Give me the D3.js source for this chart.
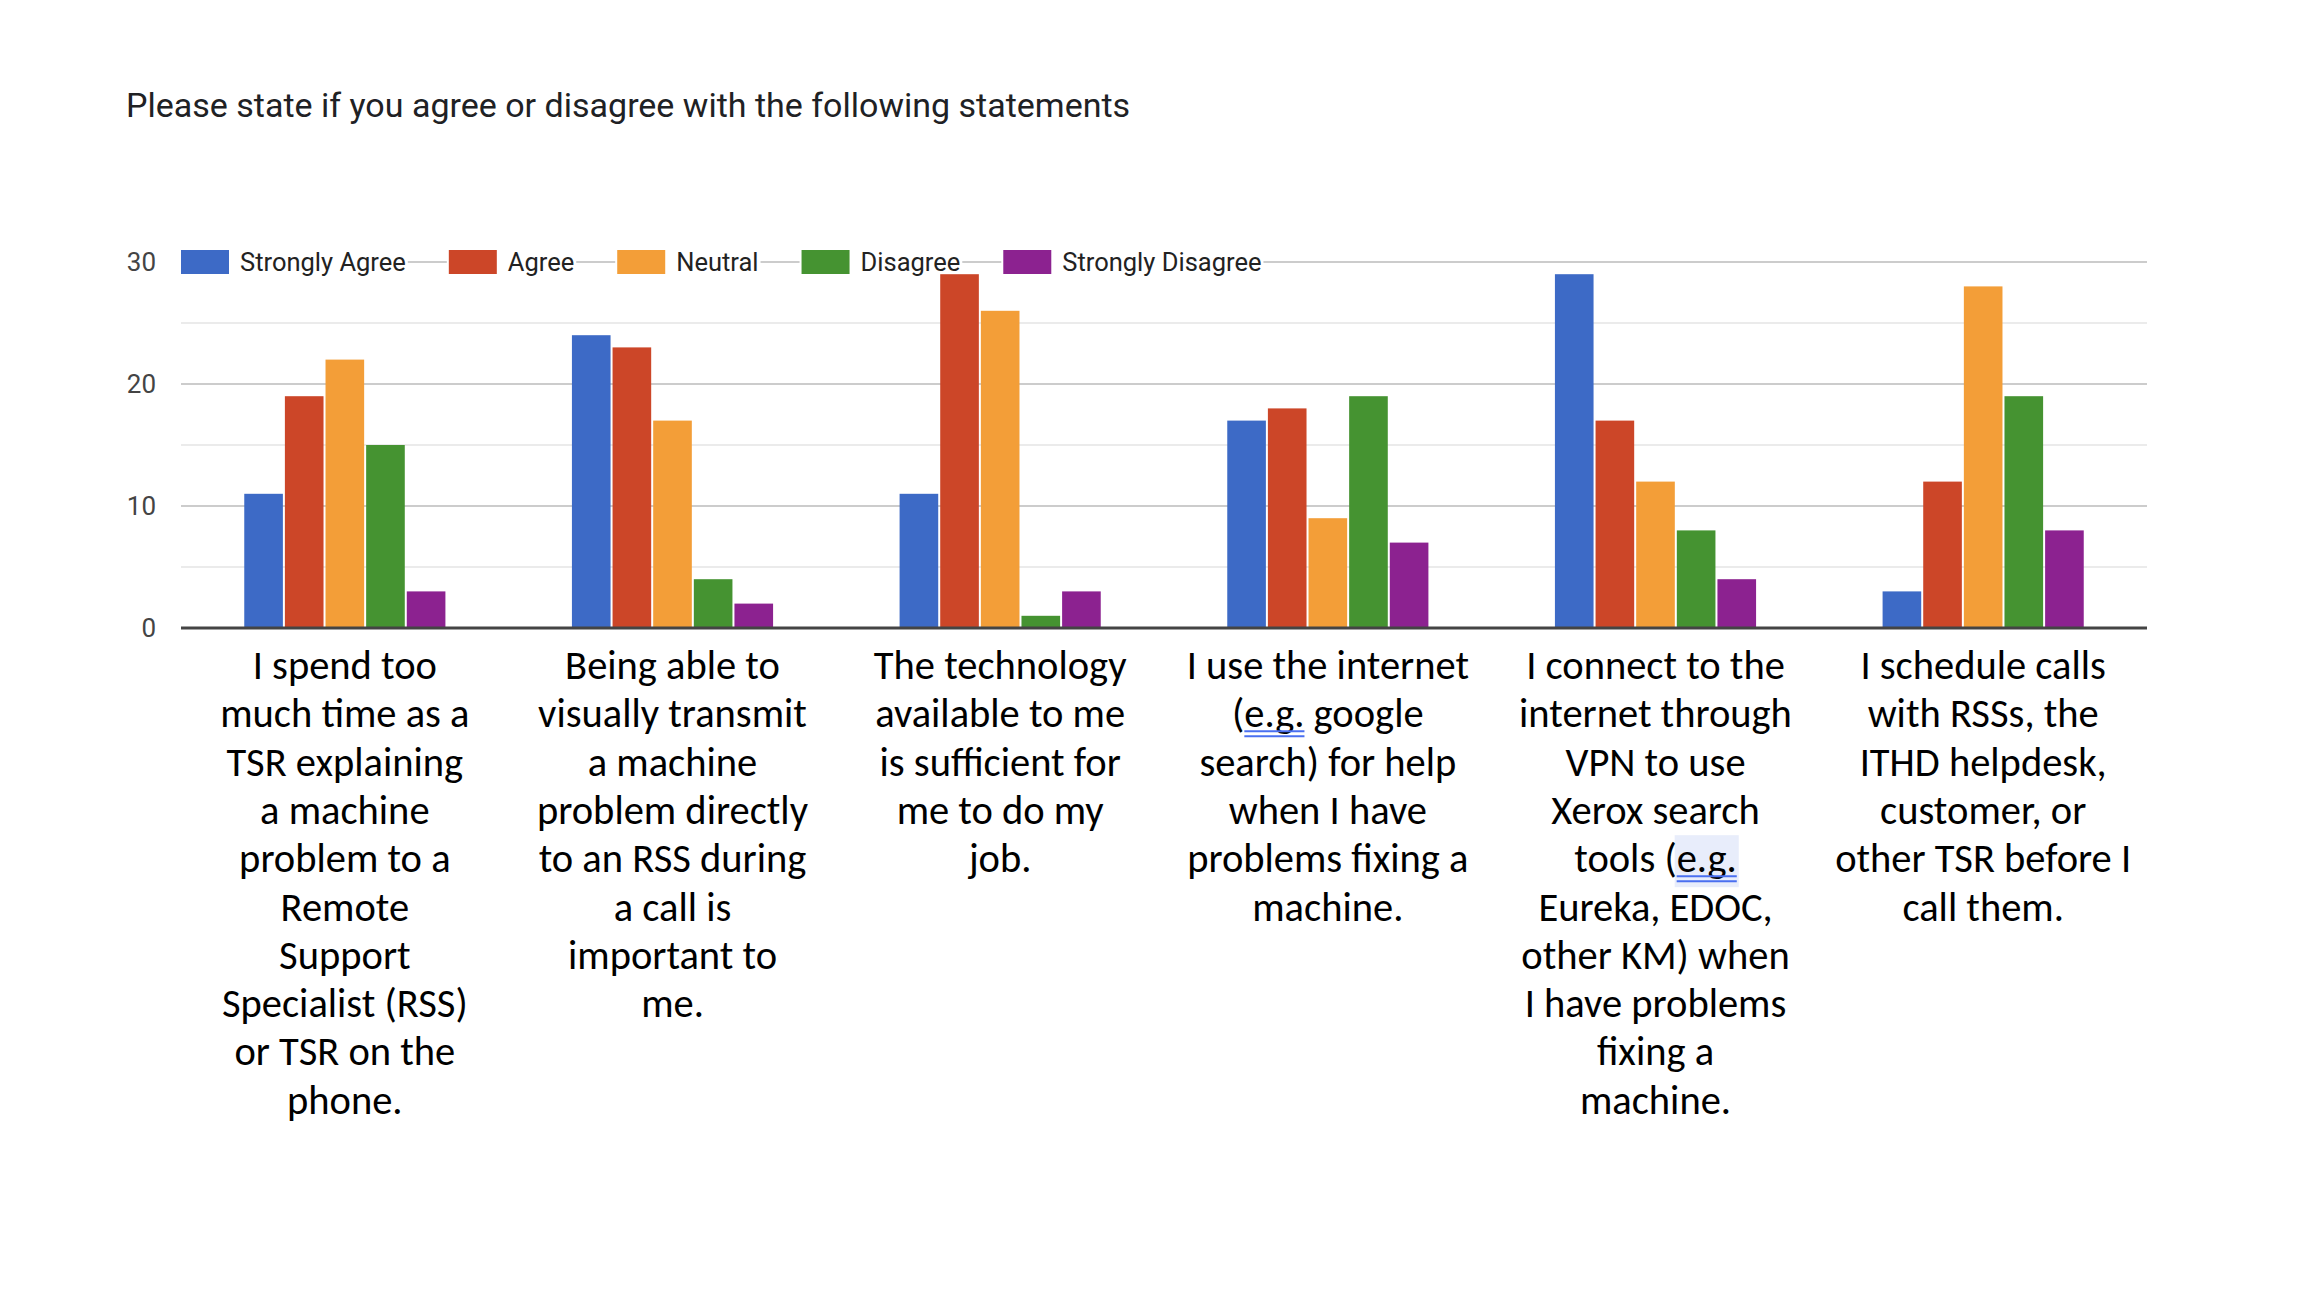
<!DOCTYPE html>
<html>
<head>
<meta charset="utf-8">
<script src="https://cdn.jsdelivr.net/npm/d3@7"></script>
<style>
  html, body { margin: 0; padding: 0; background: #fff; }
  svg { display: block; }
</style>
</head>
<body>
<div id="chart"></div>
<script>
// data
var title = "Please state if you agree or disagree with the following statements";
var seriesNames = ["Strongly Agree", "Agree", "Neutral", "Disagree", "Strongly Disagree"];
var seriesColors = ["#3d6ac6", "#cc4628", "#f39e38", "#459331", "#8c2290"];

var categories = [
  ["I spend too", "much time as a", "TSR explaining", "a machine", "problem to a", "Remote", "Support", "Specialist (RSS)", "or TSR on the", "phone."],
  ["Being able to", "visually transmit", "a machine", "problem directly", "to an RSS during", "a call is", "important to", "me."],
  ["The technology", "available to me", "is sufficient for", "me to do my", "job."],
  ["I use the internet", "(e.g. google", "search) for help", "when I have", "problems fixing a", "machine."],
  ["I connect to the", "internet through", "VPN to use", "Xerox search", "tools (e.g.", "Eureka, EDOC,", "other KM) when", "I have problems", "fixing a", "machine."],
  ["I schedule calls", "with RSSs, the", "ITHD helpdesk,", "customer, or", "other TSR before I", "call them."]
];

var stronglyAgree    = [11, 24, 11, 17, 29, 3];
var agree            = [19, 23, 29, 18, 17, 12];
var neutral          = [22, 17, 26,  9, 12, 28];
var disagree         = [15,  4,  1, 19,  8, 19];
var stronglyDisagree = [ 3,  2,  3,  7,  4,  8];

var majorTicks = [0, 10, 20, 30];
var minorTicks = [5, 15, 25];

var series = [stronglyAgree, agree, neutral, disagree, stronglyDisagree];

var width = 2320, height = 1294;

var svg = d3.select("#chart").append("svg")
  .attr("width", width)
  .attr("height", height);

// title
svg.append("text")
  .attr("x", 126)
  .attr("y", 117)
  .style("font-family", "Roboto, 'Noto Sans', sans-serif")
  .style("font-size", "34px")
  .style("fill", "#202124")
  .text(title);

var x0 = d3.scaleBand()
  .domain(d3.range(categories.length))
  .range([181, 2147])
  .paddingInner(0.38)
  .paddingOuter(0.19);

var x1 = d3.scaleBand()
  .domain(seriesNames)
  .range([0, x0.bandwidth()]);

var y = d3.scaleLinear()
  .domain([0, 30])
  .range([628, 262]);

var color = d3.scaleOrdinal().domain(seriesNames).range(seriesColors);

// gridlines
svg.append("g").selectAll("line")
  .data(minorTicks)
  .enter().append("line")
  .attr("x1", 181).attr("x2", 2147)
  .attr("y1", d => y(d)).attr("y2", d => y(d))
  .style("stroke", "#ebebeb")
  .style("stroke-width", 2);

svg.append("g").selectAll("line")
  .data(majorTicks.filter(d => d > 0))
  .enter().append("line")
  .attr("x1", 181).attr("x2", 2147)
  .attr("y1", d => y(d)).attr("y2", d => y(d))
  .style("stroke", "#cccccc")
  .style("stroke-width", 2);

// y tick labels
svg.append("g").selectAll("text")
  .data(majorTicks)
  .enter().append("text")
  .attr("x", 156)
  .attr("y", d => y(d))
  .attr("dy", "0.35em")
  .attr("text-anchor", "end")
  .style("font-family", "Roboto, 'Noto Sans', sans-serif")
  .style("font-size", "26px")
  .style("fill", "#444")
  .text(d => d);

// legend (drawn before the bars so tall bars stay on top)
var legendRectW = 48, legendRectH = 24, legendGap = 11, legendSpacing = 43;
var legendY = y(30);
var lx = 181;
var legend = svg.append("g");
seriesNames.forEach(function(name) {
  var item = legend.append("g").attr("transform", "translate(" + lx + "," + legendY + ")");
  var bg = item.append("rect").style("fill", "#fff");
  item.append("rect")
    .attr("x", 0).attr("y", -legendRectH / 2)
    .attr("width", legendRectW).attr("height", legendRectH)
    .style("fill", color(name));
  var t = item.append("text")
    .attr("x", legendRectW + legendGap)
    .attr("dy", "0.35em")
    .style("font-family", "Roboto, 'Noto Sans', sans-serif")
    .style("font-size", "25.5px")
    .style("fill", "#222")
    .text(name);
  var tw = t.node().getComputedTextLength();
  bg.attr("x", -2).attr("y", -15)
    .attr("width", legendRectW + legendGap + tw + 4).attr("height", 30);
  lx += legendRectW + legendGap + tw + legendSpacing;
});

// bars
var rows = categories.map(function(c, i) {
  return seriesNames.map(function(name, j) {
    return { cat: i, name: name, value: series[j][i] };
  });
});

var groups = svg.append("g").selectAll("g")
  .data(rows)
  .enter().append("g")
  .attr("transform", (d, i) => "translate(" + x0(i) + ",0)");

groups.selectAll("rect")
  .data(d => d)
  .enter().append("rect")
  .attr("x", d => x1(d.name) + 1)
  .attr("width", x1.bandwidth() - 2)
  .attr("y", d => y(d.value))
  .attr("height", d => y(0) - y(d.value))
  .style("fill", d => color(d.name));

// baseline
svg.append("line")
  .attr("x1", 181).attr("x2", 2147)
  .attr("y1", y(0)).attr("y2", y(0))
  .style("stroke", "#444")
  .style("stroke-width", 3);

// category labels
var labelTop = 679, lineH = 48.3;
var labels = svg.append("g");
categories.forEach(function(lines, i) {
  var cx = x0(i) + x0.bandwidth() / 2;
  lines.forEach(function(line, k) {
    var t = labels.append("text")
      .attr("x", cx)
      .attr("y", labelTop + k * lineH)
      .attr("text-anchor", "middle")
      .style("font-family", "Carlito, Calibri, Lato, sans-serif")
      .style("font-size", "40.5px")
      .style("fill", "#000")
      .text(line);
    var idx = line.indexOf("e.g.");
    if (idx >= 0) {
      var n = t.node();
      var x1p = n.getStartPositionOfChar(idx).x;
      var x2p = n.getEndPositionOfChar(idx + 3).x;
      var by = labelTop + k * lineH;
      if (i == 4) {
        // highlighted spell-check box
        labels.insert("rect", "text")
          .attr("x", x1p - 2).attr("y", by - 37)
          .attr("width", x2p - x1p + 4).attr("height", 52)
          .style("fill", "#e8edfb");
      }
      [4, 9].forEach(function(off) {
        labels.append("line")
          .attr("x1", x1p).attr("x2", x2p)
          .attr("y1", by + off).attr("y2", by + off)
          .style("stroke", "#4a6ff0")
          .style("stroke-width", 2);
      });
    }
  });
});
</script>
</body>
</html>
